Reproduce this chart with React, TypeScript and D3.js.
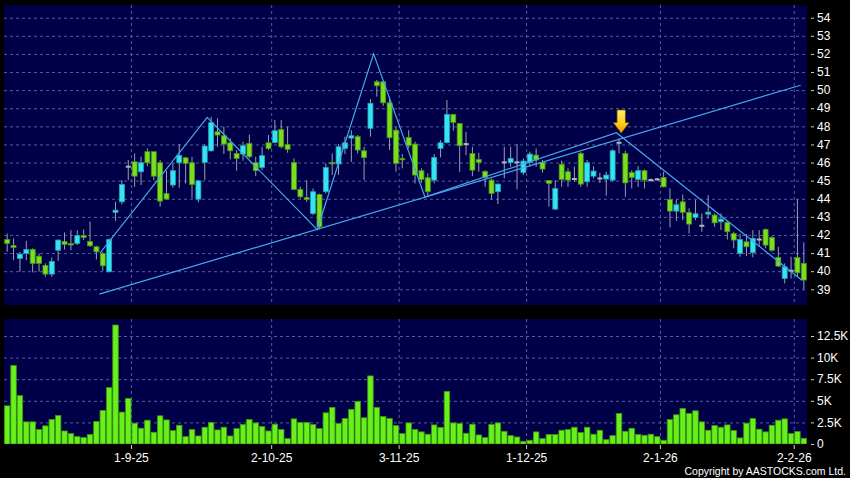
import React from "react";
import * as d3 from "d3";

const W = 850;
const H = 478;

// ---- data ----
const opens = [
  41.75, 41.42, 40.70, 40.98, 41.20, 40.83, 40.32, 39.84, 41.16, 41.64,
  41.53, 41.53, 41.97, 41.64, 41.35, 40.98, 39.97, 43.25, 43.83, 45.77,
  46.04, 45.49, 46.60, 46.60, 45.99, 44.29, 44.76, 45.99, 46.26, 45.99,
  43.98, 46.01, 46.65, 47.70, 47.48, 47.09, 46.50, 46.47, 47.06, 45.99,
  45.73, 47.09, 47.11, 47.83, 47.00, 46.01, 44.52, 44.06, 43.19, 44.24,
  44.39, 46.01, 45.92, 46.78, 47.35, 47.43, 46.65, 47.89, 50.46, 50.46,
  49.30, 47.79, 46.23, 47.39, 47.02, 45.55, 45.16, 45.03, 46.78, 47.11,
  48.66, 48.16, 47.02, 46.50, 46.17, 45.51, 45.03, 44.39, 46.01, 46.01,
  46.01, 45.45, 46.01, 46.41, 46.01, 45.01, 43.43, 45.90, 45.49, 45.09,
  46.50, 44.94, 45.25, 45.12, 45.09, 45.03, 47.09, 46.50, 45.45, 45.07,
  45.55, 45.03, 45.07, 45.18, 43.96, 43.32, 43.83, 43.25, 42.97, 42.51,
  43.15, 43.10, 42.73, 42.69, 42.08, 40.98, 41.62, 41.03, 41.75, 42.31,
  41.86, 40.76, 39.60, 40.02, 40.76, 40.43,
];
const highs = [
  42.08, 41.81, 41.07, 41.68, 41.26, 40.98, 40.43, 40.76, 41.75, 42.14,
  42.27, 42.27, 42.31, 42.73, 41.40, 41.07, 41.81, 43.83, 45.03, 46.14,
  46.50, 46.32, 46.78, 46.60, 46.14, 45.55, 45.95, 47.02, 46.32, 46.32,
  45.03, 47.02, 48.53, 48.44, 47.98, 47.33, 46.69, 47.15, 47.55, 46.32,
  46.87, 47.52, 48.35, 48.35, 47.98, 46.23, 44.66, 45.03, 44.57, 44.29,
  45.95, 46.50, 47.02, 47.43, 47.79, 47.52, 46.87, 49.51, 50.56, 50.50,
  49.64, 47.98, 46.47, 47.79, 47.15, 45.68, 45.40, 46.47, 47.24, 49.45,
  48.66, 48.16, 47.70, 46.87, 46.54, 45.58, 45.12, 44.85, 46.87, 46.87,
  47.02, 46.23, 46.60, 46.78, 46.14, 45.03, 45.03, 46.10, 45.68, 45.77,
  46.60, 46.14, 45.80, 45.44, 45.49, 46.73, 47.33, 46.65, 45.58, 45.80,
  45.62, 45.12, 45.15, 45.49, 44.57, 43.96, 44.24, 43.47, 43.93, 43.19,
  44.20, 43.19, 43.19, 42.78, 42.18, 42.08, 42.05, 42.27, 42.27, 42.36,
  41.94, 41.35, 40.43, 40.80, 43.96, 41.59,
];
const lows = [
  41.07, 40.61, 39.97, 40.61, 39.93, 39.97, 39.69, 39.69, 40.57, 41.20,
  41.16, 41.44, 41.72, 41.35, 40.65, 40.02, 39.93, 42.78, 43.69, 45.03,
  44.66, 44.76, 45.80, 45.03, 43.56, 43.96, 44.61, 44.61, 44.85, 44.02,
  43.80, 45.03, 46.60, 46.87, 46.47, 46.17, 45.55, 46.10, 46.23, 45.25,
  45.58, 46.69, 47.06, 46.78, 46.54, 44.48, 44.02, 43.83, 43.10, 42.31,
  44.29, 45.31, 45.31, 46.47, 46.04, 46.50, 45.03, 47.43, 49.64, 49.12,
  46.69, 45.49, 45.68, 46.78, 44.85, 44.88, 44.11, 44.85, 46.28, 47.06,
  47.76, 45.49, 46.41, 45.25, 45.49, 44.66, 43.96, 43.71, 45.12, 45.77,
  44.52, 45.31, 45.77, 45.77, 45.44, 43.56, 43.37, 44.66, 44.66, 44.94,
  44.66, 44.66, 45.12, 44.88, 44.17, 44.94, 46.50, 44.11, 44.57, 44.66,
  44.57, 44.94, 45.00, 44.63, 42.42, 42.78, 42.82, 42.08, 42.82, 42.18,
  42.91, 42.45, 42.27, 41.75, 41.26, 40.80, 40.83, 40.76, 41.35, 41.26,
  41.07, 40.24, 39.32, 39.60, 39.69, 38.99,
];
const closes = [
  41.53, 41.31, 40.94, 41.20, 40.43, 40.43, 39.84, 40.54, 41.72, 41.48,
  41.50, 41.97, 41.86, 41.40, 41.07, 40.30, 41.75, 43.37, 44.79, 45.77,
  45.25, 45.99, 45.99, 45.25, 43.87, 43.98, 45.55, 46.39, 45.95, 44.79,
  44.99, 46.91, 48.20, 47.52, 47.02, 46.65, 46.23, 46.93, 46.32, 45.55,
  46.38, 46.78, 47.76, 46.87, 46.73, 44.52, 44.11, 43.96, 44.39, 42.45,
  45.73, 45.93, 46.87, 47.09, 47.48, 46.69, 46.28, 49.27, 50.24, 49.30,
  47.37, 45.95, 46.17, 46.93, 45.31, 45.07, 44.39, 46.28, 47.09, 48.66,
  48.22, 46.93, 47.02, 45.58, 46.01, 45.18, 44.29, 44.81, 46.01, 46.23,
  46.01, 46.08, 46.47, 46.14, 45.64, 44.85, 44.57, 45.07, 45.03, 45.09,
  44.81, 45.99, 45.53, 45.12, 45.31, 46.65, 47.09, 44.88, 45.18, 45.55,
  45.03, 45.03, 45.07, 44.66, 43.32, 43.67, 43.25, 42.60, 43.17, 42.51,
  43.26, 42.67, 42.88, 42.18, 41.72, 41.75, 41.35, 41.81, 41.75, 41.44,
  41.16, 40.28, 40.24, 40.02, 39.91, 39.51,
];
const volumes = [
  4420, 9080, 5590, 2560, 2560, 1670, 2100, 2830, 3300, 1510,
  1200, 850, 740, 1090, 2600, 3880, 6520, 13770, 3690, 5280,
  2410, 1820, 2750, 1360, 3260, 2790, 1550, 2170, 850, 1670,
  930, 1940, 2480, 1630, 1940, 930, 1780, 2250, 2830, 2440,
  2020, 1510, 2290, 1670, 620, 2910, 2480, 2480, 2250, 1780,
  3610, 4230, 2370, 2950, 4000, 4930, 3030, 7880, 4230, 3180,
  2950, 2130, 1200, 2440, 1670, 1400, 1130, 2210, 1900, 6090,
  2440, 2370, 1240, 2290, 1050, 740, 2250, 2440, 1470, 970,
  810, 310, 430, 1400, 620, 1090, 1090, 1590, 1670, 1940,
  1320, 1940, 1130, 1590, 500, 970, 3530, 1470, 1820, 1090,
  1010, 1130, 850, 430, 2830, 3380, 4110, 3530, 3840, 2560,
  1590, 2130, 1940, 2210, 1550, 700, 2410, 2950, 1710, 1400,
  2170, 2750, 2910, 1200, 1440, 660,
];

const dateLabels = ["1-9-25", "2-10-25", "3-11-25", "1-12-25", "2-1-26", "2-2-26"];
const dateIdx = [20, 42, 62, 82, 103, 124];

const priceTicks = d3.range(39, 55);
const volTicks = [0, 2500, 5000, 7500, 10000, 12500];
const volTickLabels = ["0", "2.5K", "5K", "7.5K", "10K", "12.5K"];

// drawn pattern lines (index position, price)
const zigIdx = [14.56, 31.39, 48.65, 57.5, 65.55, 95.6, 124.7];
const zigPrice = [41.0, 48.5, 42.3, 52.0, 44.1, 47.65, 39.5];
const trendIdx = [14.45, 124.5];
const trendPrice = [38.73, 50.27];
const arrowIdx = 96.35;
const arrowPrice = 47.62;

const N = closes.length;

// ---- layout ----
const plotL = 4;
const plotR = 807;
const priceTop = 5;
const priceBottom = 305;
const volTop = 319;
const volBottom = 444;

const FONT = "'Liberation Sans', Arial, sans-serif";
const GRID = "#525f96";

export default function App() {
  const x = d3.scaleLinear().domain([-0.5, N - 0.5]).range([plotL, plotR]);
  const step = x(1) - x(0);
  const y = d3.scaleLinear().domain([39, 54]).range([289.3, 17.7]);
  const yv = d3.scaleLinear().domain([0, 12500]).range([volBottom, 336]);

  const bodyW = step * 0.78;
  const volW = step * 0.86;

  const lineGen = d3
    .line<[number, number]>()
    .x((d) => x(d[0]))
    .y((d) => y(d[1]));

  const zig: [number, number][] = zigIdx.map((v, i) => [v, zigPrice[i]]);
  const trend: [number, number][] = trendIdx.map((v, i) => [v, trendPrice[i]]);

  const ax = x(arrowIdx);
  const ay = y(arrowPrice);
  const arrowPath = `M${ax - 4.2},${ay - 23.3} L${ax + 4.2},${ay - 23.3} L${ax + 4.2},${ay - 10.7} L${ax + 8},${ay - 10.7} L${ax},${ay} L${ax - 8},${ay - 10.7} L${ax - 4.2},${ay - 10.7} Z`;

  return (
    <svg
      width={W}
      height={H}
      style={{ position: "absolute", left: 0, top: 0, display: "block" }}
    >
      <defs>
        <linearGradient id="arrowGrad" x1="0" y1="0" x2="0" y2="1">
          <stop offset="0" stopColor="#fff06a" />
          <stop offset="0.55" stopColor="#ffcc22" />
          <stop offset="1" stopColor="#f09a00" />
        </linearGradient>
        <clipPath id="priceClip">
          <rect x={plotL} y={priceTop} width={plotR - plotL} height={priceBottom - priceTop} />
        </clipPath>
        <clipPath id="volClip">
          <rect x={plotL} y={volTop} width={plotR - plotL} height={volBottom - volTop} />
        </clipPath>
      </defs>
      <rect x={0} y={0} width={W} height={H} fill="#000000" />

      {/* panels */}
      <rect x={plotL} y={priceTop} width={plotR - plotL} height={priceBottom - priceTop} fill="#000048" />
      <rect x={plotL} y={volTop} width={plotR - plotL} height={volBottom - volTop} fill="#000048" />

      {/* price grid */}
      {priceTicks.map((p) => (
        <line
          key={"pg" + p}
          x1={plotL}
          x2={plotR}
          y1={y(p) + 0.5}
          y2={y(p) + 0.5}
          stroke={GRID}
          strokeDasharray="3,3"
          strokeWidth={1}
        />
      ))}
      {volTicks.slice(1).map((v) => (
        <line
          key={"vg" + v}
          x1={plotL}
          x2={plotR}
          y1={yv(v) + 0.5}
          y2={yv(v) + 0.5}
          stroke={GRID}
          strokeDasharray="3,3"
          strokeWidth={1}
        />
      ))}
      {dateIdx.map((d) => (
        <g key={"dg" + d}>
          <line
            x1={x(d - 0.5)}
            x2={x(d - 0.5)}
            y1={priceTop}
            y2={priceBottom}
            stroke={GRID}
            strokeDasharray="3,3"
          />
          <line
            x1={x(d - 0.5)}
            x2={x(d - 0.5)}
            y1={volTop}
            y2={volBottom}
            stroke={GRID}
            strokeDasharray="3,3"
          />
        </g>
      ))}

      {/* candles */}
      <g clipPath="url(#priceClip)">
        {closes.map((c, i) => {
          const cx = x(i);
          return (
            <line
              key={"w" + i}
              x1={cx}
              x2={cx}
              y1={y(highs[i])}
              y2={y(lows[i])}
              stroke="#9c9cb0"
              strokeWidth={1}
            />
          );
        })}
        {closes.map((c, i) => {
          const o = opens[i];
          const cx = x(i);
          if (o === c) {
            return (
              <rect
                key={"b" + i}
                x={cx - bodyW / 2}
                y={y(o) - 1}
                width={bodyW}
                height={2}
                fill="#b4b4c0"
              />
            );
          }
          const up = c > o;
          const top = y(Math.max(o, c));
          const h = Math.max(1.5, Math.abs(y(o) - y(c)));
          return (
            <rect
              key={"b" + i}
              x={cx - bodyW / 2}
              y={top}
              width={bodyW}
              height={h}
              fill={up ? "#36e4f0" : "#78de1e"}
              stroke={up ? "#1ca6b8" : "#4a9412"}
              strokeWidth={0.8}
            />
          );
        })}
      </g>

      {/* pattern lines */}
      <g clipPath="url(#priceClip)">
        <path d={lineGen(trend) || ""} fill="none" stroke="#44a8ec" strokeWidth={1.2} />
        <path d={lineGen(zig) || ""} fill="none" stroke="#44a8ec" strokeWidth={1.2} />
      </g>
      <path d={arrowPath} fill="url(#arrowGrad)" stroke="#6a4a00" strokeWidth={0.8} />

      {/* volume */}
      <g clipPath="url(#volClip)">
        {volumes.map((v, i) => (
          <rect
            key={"v" + i}
            x={x(i) - volW / 2}
            y={yv(v)}
            width={volW}
            height={volBottom - yv(v)}
            fill="#68f01a"
            stroke="#3c9a0c"
            strokeWidth={0.8}
          />
        ))}
      </g>

      {/* price axis */}
      {priceTicks.map((p) => (
        <g key={"pt" + p}>
          <line x1={plotR + 4} x2={plotR + 7} y1={y(p) + 0.5} y2={y(p) + 0.5} stroke="#cfcfcf" />
          <text x={plotR + 10} y={y(p) + 4.2} fill="#ffffff" fontSize={12} fontFamily={FONT}>
            {p}
          </text>
        </g>
      ))}
      {volTicks.map((v, i) => (
        <g key={"vt" + v}>
          <line x1={plotR + 4} x2={plotR + 7} y1={yv(v) + 0.5} y2={yv(v) + 0.5} stroke="#cfcfcf" />
          <text x={plotR + 10} y={yv(v) + 4.2} fill="#ffffff" fontSize={12} fontFamily={FONT}>
            {volTickLabels[i]}
          </text>
        </g>
      ))}

      {/* date axis */}
      {dateIdx.map((d, i) => (
        <g key={"dt" + d}>
          <line x1={x(d - 0.5)} x2={x(d - 0.5)} y1={volBottom + 1} y2={volBottom + 5} stroke="#cfcfcf" />
          <text
            x={x(d - 0.5)}
            y={461.5}
            fill="#ffffff"
            fontSize={12}
            fontFamily={FONT}
            textAnchor="middle"
          >
            {dateLabels[i]}
          </text>
        </g>
      ))}

      <text x={846} y={474.5} fill="#ffffff" fontSize={10.5} fontFamily={FONT} textAnchor="end">
        Copyright by AASTOCKS.com Ltd.
      </text>
    </svg>
  );
}
